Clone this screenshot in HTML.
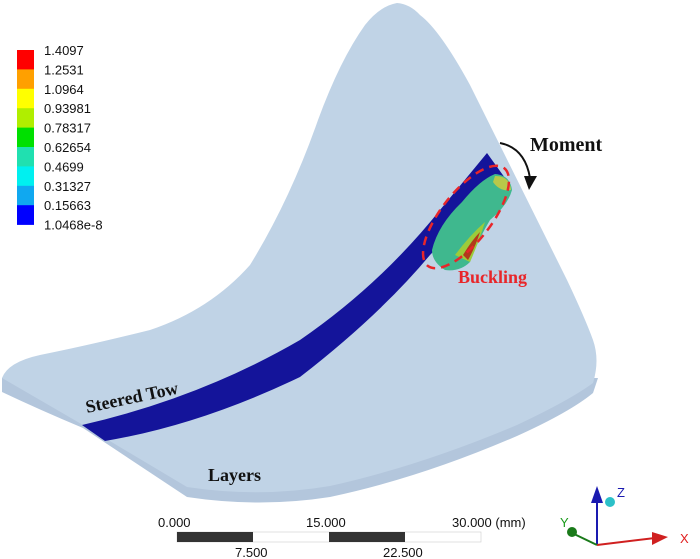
<!DOCTYPE html>
<html><head><meta charset="utf-8"><style>
html,body{margin:0;padding:0;background:#fff;}
svg{display:block;}
.leg{font-family:"Liberation Sans",sans-serif;font-size:13px;fill:#111;}
.ann{font-family:"Liberation Serif",serif;font-weight:bold;}
</style></head><body>
<svg width="700" height="559" viewBox="0 0 700 559">
<g>
  <path d="M2,378 L2,392 Q40,410 83,428 L187,497 Q260,508 330,497 Q420,478 517,436 Q570,412 593,393 L598,378 Z" fill="#b3c6dc"/>
  <path fill="#c0d3e6"
    d="M397,3 Q380,6 365,25 Q340,60 318,120 Q290,200 250,265 Q210,310 150,330 Q90,345 40,355 Q8,362 2,378 Q40,400 83,425 L187,487 Q260,498 330,486 Q420,466 517,425 Q570,400 593,383 Q600,360 593,340 Q585,318 567,280 L470,85 Q440,30 420,15 Q410,4 397,3 Z"/>
  <path fill="#14149a"
    d="M82,425 Q200,398 300,340 Q380,285 440,210 L487,153 L505,178 Q470,215 430,255 Q380,315 300,377 Q200,425 105,441 Z"/>
  <path fill="#3fb88e"
    d="M432,250 Q438,225 462,202 Q480,180 495,174 Q510,175 512,190 Q508,205 490,220 Q478,240 470,262 Q460,272 445,270 Q432,262 432,250Z"/>
  <path fill="#9ccc3a" d="M455,255 Q470,235 485,222 Q478,244 470,262Z"/>
  <path fill="#b23a1a" d="M463,255 Q472,240 480,232 Q475,248 468,260Z"/>
  <path fill="#b8c84a" d="M495,176 Q510,176 511,190 Q500,192 493,182Z"/>
  <ellipse cx="466" cy="217" rx="62" ry="25" transform="rotate(-52 466 217)" fill="none" stroke="#e8262a" stroke-width="2.5" stroke-dasharray="9,6"/>
</g>
<g>
  <path d="M500,143 Q525,148 530,178" fill="none" stroke="#111" stroke-width="2"/>
  <path d="M524,176 L537,176 L529,190 Z" fill="#111"/>
</g>
<text class="ann" x="530" y="151" font-size="20" fill="#111">Moment</text>
<text class="ann" x="458" y="283" font-size="18" fill="#e8262a">Buckling</text>
<text class="ann" x="87" y="413" font-size="18" fill="#111" transform="rotate(-12 87 413)">Steered Tow</text>
<text class="ann" x="208" y="481" font-size="18" fill="#111">Layers</text>

<g id="legend"></g>

<g>
  <rect x="177" y="532" width="304" height="10" fill="#fff" stroke="#ccc" stroke-width="0.6"/>
  <rect x="177" y="532" width="76" height="10" fill="#333"/>
  <rect x="329" y="532" width="76" height="10" fill="#333"/>
  <text class="leg" x="158" y="527">0.000</text>
  <text class="leg" x="306" y="527">15.000</text>
  <text class="leg" x="452" y="527">30.000 (mm)</text>
  <text class="leg" x="235" y="557">7.500</text>
  <text class="leg" x="383" y="557">22.500</text>
</g>
<g>
  <line x1="597" y1="545" x2="597" y2="500" stroke="#1a1ab0" stroke-width="2"/>
  <path d="M591,503 L603,503 L597,486 Z" fill="#1a1ab0"/>
  <text x="617" y="497" class="leg" style="fill:#1a1ab0">Z</text>
  <line x1="597" y1="545" x2="655" y2="538" stroke="#d02020" stroke-width="2"/>
  <path d="M652,532 L652,545 L668,537 Z" fill="#d02020"/>
  <text x="680" y="543" class="leg" style="fill:#e02020">X</text>
  <line x1="597" y1="545" x2="572" y2="533" stroke="#1a7a1a" stroke-width="2"/>
  <circle cx="572" cy="532" r="5" fill="#1a7a1a"/>
  <text x="560" y="527" class="leg" style="fill:#1a9a1a">Y</text>
  <circle cx="610" cy="502" r="5" fill="#2cc0c8"/>
</g>
<script>
const legendValues=["1.4097","1.2531","1.0964","0.93981","0.78317","0.62654","0.4699","0.31327","0.15663","1.0468e-8"];
const legendColors=["#ff0000","#ffa000","#ffff00","#b0ee00","#00e000","#20e0b0","#00f0f0","#10a8f0","#0000ff"];
const g=document.getElementById('legend');
const ns="http://www.w3.org/2000/svg";
const top0=50,step=19.4;
legendColors.forEach((c,i)=>{
  const r=document.createElementNS(ns,'rect');
  
  
  r.setAttribute('x',17);r.setAttribute('y',top0+i*step);
  r.setAttribute('width',17);r.setAttribute('height',step+0.3);
  r.setAttribute('fill',c);
  g.appendChild(r);
});
legendValues.forEach((v,i)=>{
  const t=document.createElementNS(ns,'text');
  
  
  t.setAttribute('class','leg');
  t.setAttribute('x',44);t.setAttribute('y',top0+i*step+5);
  t.textContent=v;
  g.appendChild(t);
});
</script>
</svg>
</body></html>
